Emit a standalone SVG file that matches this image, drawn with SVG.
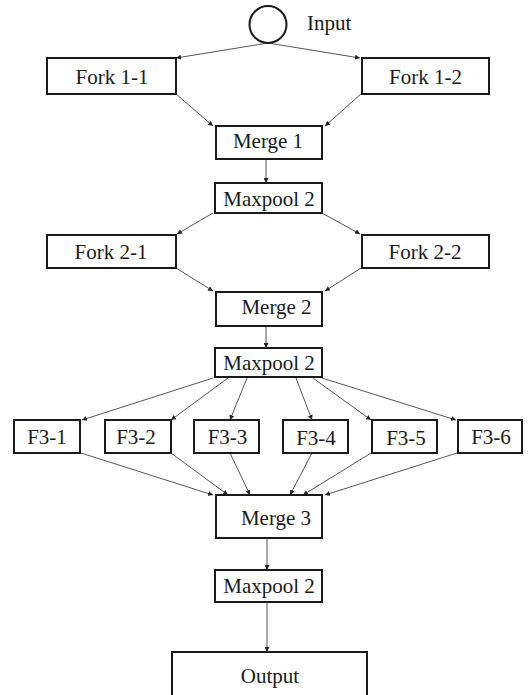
<svg xmlns="http://www.w3.org/2000/svg" width="529" height="695" viewBox="0 0 529 695">
  <style>
    .box { fill: #ffffff; stroke: #1a1a1a; stroke-width: 2; }
    .lbl { font-family: "Liberation Serif", "Times New Roman", serif; font-size: 21px; fill: #1a1a1a; text-anchor: middle; }
    .edge { stroke: #555555; stroke-width: 1; fill: none; marker-end: url(#tip); }
  </style>
  <defs>
    <marker id="tip" viewBox="0 0 6 6" refX="6" refY="3" markerWidth="5" markerHeight="5" markerUnits="userSpaceOnUse" orient="auto">
      <path d="M0,0 L6,3 L0,6 Z" fill="#222222"/>
    </marker>
  </defs>
  <rect width="529" height="695" fill="#ffffff"/>

  <!-- connectors -->
  <g id="connectors">
    <line class="edge" x1="268" y1="43" x2="176" y2="58"/>
    <line class="edge" x1="268" y1="43" x2="360" y2="58"/>
    <line class="edge" x1="176" y1="94" x2="213" y2="126"/>
    <line class="edge" x1="361" y1="94" x2="325" y2="126"/>
    <line class="edge" x1="266" y1="159" x2="266" y2="183"/>
    <line class="edge" x1="213" y1="213" x2="177" y2="234"/>
    <line class="edge" x1="322" y1="213" x2="360" y2="234"/>
    <line class="edge" x1="176" y1="268" x2="213" y2="291"/>
    <line class="edge" x1="361" y1="268" x2="325" y2="291"/>
    <line class="edge" x1="266" y1="326" x2="266" y2="348"/>
    <line class="edge" x1="213" y1="378" x2="82" y2="420"/>
    <line class="edge" x1="228" y1="378" x2="171" y2="420"/>
    <line class="edge" x1="247" y1="378" x2="230" y2="420"/>
    <line class="edge" x1="296" y1="378" x2="312" y2="420"/>
    <line class="edge" x1="313" y1="378" x2="371" y2="420"/>
    <line class="edge" x1="322" y1="378" x2="456" y2="420"/>
    <line class="edge" x1="81" y1="453" x2="213" y2="495"/>
    <line class="edge" x1="171" y1="453" x2="228" y2="495"/>
    <line class="edge" x1="230" y1="453" x2="250" y2="495"/>
    <line class="edge" x1="312" y1="453" x2="290" y2="495"/>
    <line class="edge" x1="371" y1="453" x2="303" y2="495"/>
    <line class="edge" x1="457" y1="453" x2="325" y2="495"/>
    <line class="edge" x1="267" y1="538" x2="267" y2="570"/>
    <line class="edge" x1="267" y1="602" x2="267" y2="652"/>
  </g>

  <!-- nodes -->
  <g id="input">
    <circle cx="268" cy="24.5" r="18.5" fill="#ffffff" stroke="#1a1a1a" stroke-width="2"/>
    <text x="307" y="30" class="lbl" style="text-anchor:start">Input</text>
  </g>
  <g id="fork1-1">
    <rect class="box" x="47" y="58" width="129" height="36"/>
    <text class="lbl" x="112" y="84">Fork 1-1</text>
  </g>
  <g id="fork1-2">
    <rect class="box" x="362" y="58" width="127" height="36"/>
    <text class="lbl" x="425.5" y="84">Fork 1-2</text>
  </g>
  <g id="merge1">
    <rect class="box" x="216" y="126" width="106" height="33"/>
    <text class="lbl" x="268" y="148">Merge 1</text>
  </g>
  <g id="maxpool-a">
    <rect class="box" x="215" y="183" width="107" height="30"/>
    <text class="lbl" x="269" y="206">Maxpool 2</text>
  </g>
  <g id="fork2-1">
    <rect class="box" x="47" y="235" width="129" height="33"/>
    <text class="lbl" x="111" y="259">Fork 2-1</text>
  </g>
  <g id="fork2-2">
    <rect class="box" x="362" y="235" width="127" height="33"/>
    <text class="lbl" x="425" y="259">Fork 2-2</text>
  </g>
  <g id="merge2">
    <rect class="box" x="216" y="292" width="106" height="34"/>
    <text class="lbl" x="276.5" y="314">Merge 2</text>
  </g>
  <g id="maxpool-b">
    <rect class="box" x="215" y="348" width="107" height="29"/>
    <text class="lbl" x="269" y="370">Maxpool 2</text>
  </g>
  <g id="f3-1">
    <rect class="box" x="14" y="420" width="66" height="33"/>
    <text class="lbl" x="47" y="444">F3-1</text>
  </g>
  <g id="f3-2">
    <rect class="box" x="105" y="420" width="66" height="33"/>
    <text class="lbl" x="136" y="444">F3-2</text>
  </g>
  <g id="f3-3">
    <rect class="box" x="194" y="420" width="65" height="33"/>
    <text class="lbl" x="227.5" y="444">F3-3</text>
  </g>
  <g id="f3-4">
    <rect class="box" x="283" y="420" width="65" height="33"/>
    <text class="lbl" x="316" y="445">F3-4</text>
  </g>
  <g id="f3-5">
    <rect class="box" x="372" y="420" width="65" height="33"/>
    <text class="lbl" x="406" y="445">F3-5</text>
  </g>
  <g id="f3-6">
    <rect class="box" x="458" y="420" width="64" height="33"/>
    <text class="lbl" x="491" y="444">F3-6</text>
  </g>
  <g id="merge3">
    <rect class="box" x="216" y="495" width="106" height="43"/>
    <text class="lbl" x="276" y="525">Merge 3</text>
  </g>
  <g id="maxpool-c">
    <rect class="box" x="215" y="570" width="107" height="32"/>
    <text class="lbl" x="269" y="593">Maxpool 2</text>
  </g>
  <g id="output">
    <rect class="box" x="172" y="652" width="195" height="60"/>
    <text class="lbl" x="270" y="683">Output</text>
  </g>
</svg>
